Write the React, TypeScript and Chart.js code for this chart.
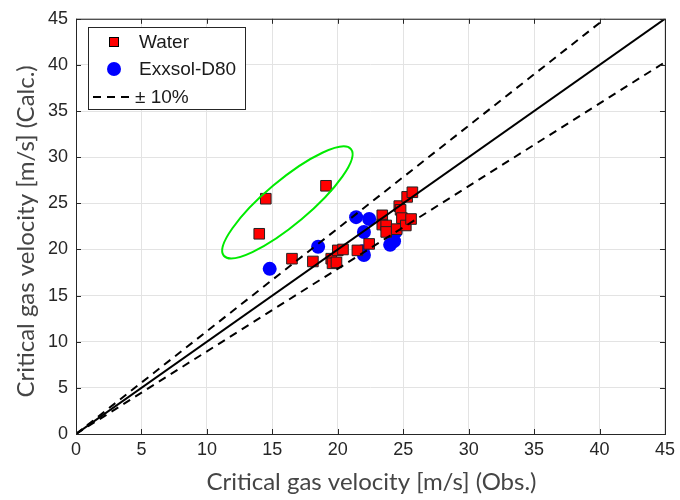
import React, { useEffect, useRef } from "react";
import { Chart, registerables } from "chart.js";

Chart.register(...registerables);

// Water: observed (x) vs calculated (y)
const waterX = [14.5, 19.1, 14.0, 16.5, 18.1, 19.5, 19.6, 19.9, 20.0, 20.4, 21.5, 22.4, 23.4, 23.4, 23.7, 23.7, 24.5, 24.7, 24.8, 24.9, 25.2, 25.3, 25.6, 25.7];
const waterY = [25.5, 26.9, 21.7, 19.0, 18.7, 19.0, 18.5, 18.6, 19.9, 20.0, 19.9, 20.6, 23.7, 22.7, 22.6, 21.9, 22.2, 24.7, 24.3, 23.4, 22.6, 25.7, 23.3, 26.2];
// Exxsol-D80
const exxX = [14.8, 18.5, 21.4, 22.4, 22.0, 21.9, 22.0, 24.4, 24.3, 24.0];
const exxY = [17.9, 20.3, 23.5, 23.3, 21.9, 19.8, 19.4, 21.9, 20.9, 20.5];
// Reference lines
const parityX = [0, 45];
const parityY = [0, 45];
const upperX = [0, 40.4];
const upperY = [0, 45];
const lowerX = [0, 45];
const lowerY = [0, 40.3];
const ticksXY = [0, 5, 10, 15, 20, 25, 30, 35, 40, 45];
const legendLabels = ["Water", "Exxsol-D80", "\u00b1 10%"];
const xTitle = "Critical gas velocity [m/s] (Obs.)";
const yTitle = "Critical gas velocity [m/s] (Calc.)";
// highlighted region (centre in data units)
const ellipseCenter = [16.15, 25.1];

const pts = (xs: number[], ys: number[]) => xs.map((x, i) => ({ x, y: ys[i] }));

export default function App() {
  const ref = useRef<HTMLCanvasElement>(null);
  useEffect(() => {
    const canvas = ref.current!;
    const TICK_FONT = { family: "'Liberation Sans', Arial, sans-serif", size: 18 };

    const overlay = {
      id: "overlay",
      afterDatasetsDraw(chart: any) {
        const { ctx, chartArea: a, scales } = chart;
        const xs = scales.x, ys = scales.y;
        ctx.save();
        // ellipse
        ctx.beginPath();
        ctx.ellipse(xs.getPixelForValue(ellipseCenter[0]), ys.getPixelForValue(ellipseCenter[1]), 83, 22, -40 * Math.PI / 180, 0, Math.PI * 2);
        ctx.strokeStyle = "rgb(0,235,0)";
        ctx.lineWidth = 2;
        ctx.stroke();
        // box
        ctx.strokeStyle = "#262626";
        ctx.lineWidth = 1;
        ctx.strokeRect(a.left + 0.5, a.top + 0.5, a.right - a.left, a.bottom - a.top);
        // inward ticks
        ctx.beginPath();
        for (const t of ticksXY) {
          const px = Math.round(xs.getPixelForValue(t)) + 0.5;
          ctx.moveTo(px, a.bottom); ctx.lineTo(px, a.bottom - 5);
          ctx.moveTo(px, a.top); ctx.lineTo(px, a.top + 5);
          const py = Math.round(ys.getPixelForValue(t)) + 0.5;
          ctx.moveTo(a.left, py); ctx.lineTo(a.left + 5, py);
          ctx.moveTo(a.right, py); ctx.lineTo(a.right - 5, py);
        }
        ctx.stroke();
        // legend
        const lx = 88, ly = 27, lw = 157, lh = 82;
        ctx.fillStyle = "#fff";
        ctx.fillRect(lx, ly, lw, lh);
        ctx.strokeStyle = "#262626";
        ctx.strokeRect(lx + 0.5, ly + 0.5, lw, lh);
        ctx.font = "19px 'Liberation Sans', Arial, sans-serif";
        ctx.textBaseline = "middle";
        ctx.textAlign = "left";
        const rows = [42, 69, 97];
        ctx.fillStyle = "#ff0000";
        ctx.fillRect(109, rows[0] - 5, 10, 10);
        ctx.strokeStyle = "#000";
        ctx.strokeRect(109.5, rows[0] - 4.5, 9, 9);
        ctx.fillStyle = "#0000ff";
        ctx.beginPath();
        ctx.arc(114, rows[1], 7, 0, Math.PI * 2);
        ctx.fill();
        ctx.strokeStyle = "#000";
        ctx.lineWidth = 2;
        ctx.setLineDash([8, 6]);
        ctx.beginPath();
        ctx.moveTo(93, rows[2]); ctx.lineTo(135, rows[2]);
        ctx.stroke();
        ctx.setLineDash([]);
        ctx.fillStyle = "#1a1a1a";
        ctx.fillText(legendLabels[0], 139, rows[0] + 1);
        ctx.fillText(legendLabels[1], 139, rows[1] + 1);
        ctx.fillText(legendLabels[2], 135, rows[2] + 1);
        // axis titles
        ctx.fillStyle = "#454545";
        ctx.font = "24px Lato, 'Open Sans', sans-serif";
        ctx.textAlign = "center";
        ctx.fillText(xTitle, (a.left + a.right) / 2 + 1, 482);
        ctx.translate(26, (a.top + a.bottom) / 2 + 5);
        ctx.rotate(-Math.PI / 2);
        ctx.fillText(yTitle, 0, 0);
        ctx.restore();
      },
    };

    const lineDs = (label: string, xs: number[], ys: number[], dash: number[]) => ({
      label,
      data: pts(xs, ys),
      showLine: true,
      borderColor: "#000",
      borderWidth: 2,
      borderDash: dash,
      pointRadius: 0,
      fill: false,
      order: 0,
    });

    const chart = new Chart(canvas, {
      type: "scatter",
      data: {
        datasets: [
          lineDs("parity", parityX, parityY, []),
          lineDs("upper", upperX, upperY, [8, 6]),
          lineDs("lower", lowerX, lowerY, [8, 6]),
          {
            label: legendLabels[0],
            data: pts(waterX, waterY),
            pointStyle: "rect",
            pointRadius: 7.5,
            backgroundColor: "#ff0000",
            borderColor: "#222",
            borderWidth: 1,
            order: 1,
          },
          {
            label: legendLabels[1],
            data: pts(exxX, exxY),
            pointStyle: "circle",
            pointRadius: 7,
            backgroundColor: "#0000ff",
            borderColor: "#0000ff",
            borderWidth: 0,
            order: 1,
          },
        ],
      } as any,
      options: {
        animation: false,
        responsive: false,
        layout: { padding: { left: 0, right: 13, top: 13, bottom: 0 } },
        plugins: { legend: { display: false }, tooltip: { enabled: false } },
        scales: {
          x: {
            type: "linear",
            min: 0,
            max: 45,
            afterFit: (s: any) => { s.height = 66; },
            ticks: { stepSize: 5, color: "#262626", font: TICK_FONT, padding: 5, maxRotation: 0 },
            grid: { color: "#e3e3e3", drawTicks: false },
            border: { display: false },
          },
          y: {
            type: "linear",
            min: 0,
            max: 45,
            afterFit: (s: any) => { s.width = 76; },
            ticks: { stepSize: 5, color: "#262626", font: TICK_FONT, padding: 8 },
            grid: { color: "#e3e3e3", drawTicks: false },
            border: { display: false },
          },
        },
      } as any,
      plugins: [overlay],
    });
    return () => chart.destroy();
  }, []);
  return (
    <canvas
      ref={ref}
      width={680}
      height={500}
      style={{ position: "absolute", left: 0, top: 0, width: 680, height: 500, display: "block" }}
    />
  );
}
